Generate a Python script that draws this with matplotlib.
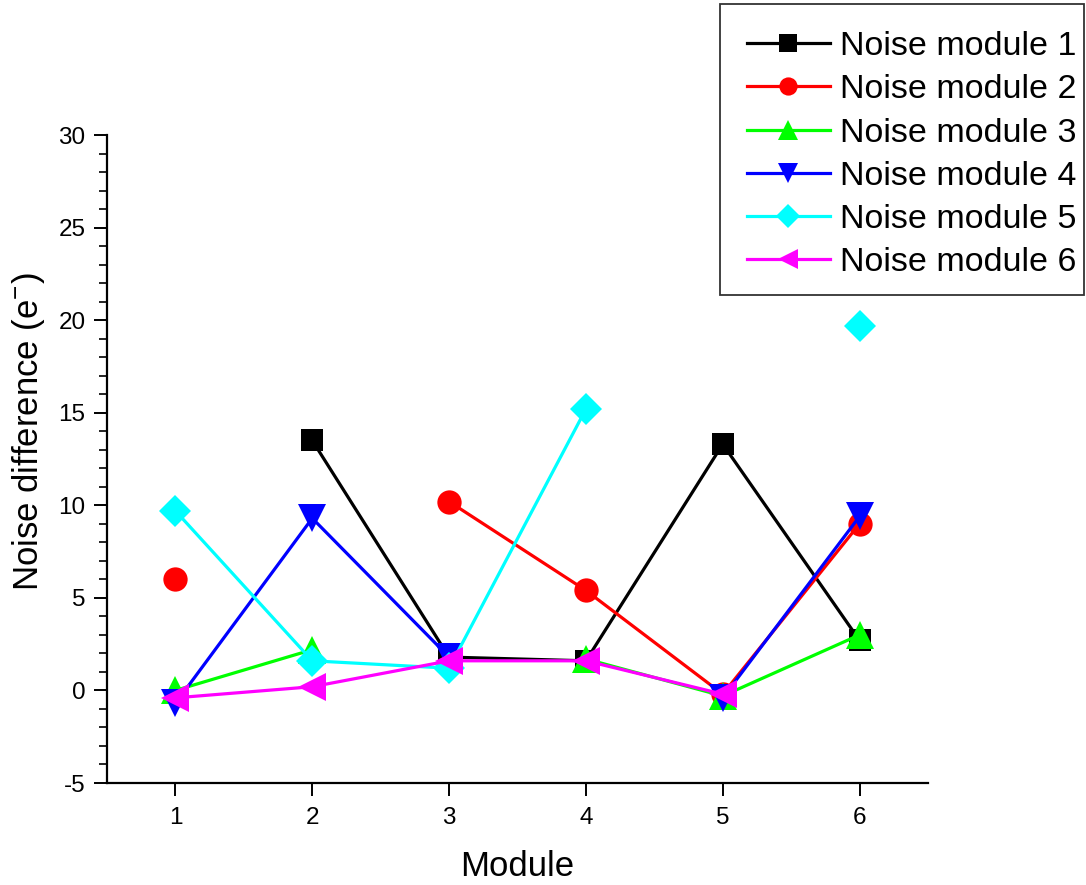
import numpy as np
import matplotlib
matplotlib.use('Agg')
import matplotlib.pyplot as plt
from matplotlib.ticker import MultipleLocator
from matplotlib.patches import Rectangle

plt.rcParams['font.family'] = ['Liberation Sans', 'DejaVu Sans']
plt.rcParams['mathtext.fontset'] = 'custom'
plt.rcParams['mathtext.rm'] = 'Liberation Sans'
plt.rcParams['mathtext.it'] = 'Liberation Sans:italic'
plt.rcParams['axes.unicode_minus'] = False

modules = [1, 2, 3, 4, 5, 6]
nan = np.nan
noise_1 = [nan, 13.5, 1.8, 1.6, 13.3, 2.7]
noise_2 = [6.0, nan, 10.2, 5.4, -0.2, 9.0]
noise_3 = [0.0, 2.2, nan, 1.7, -0.3, 3.0]
noise_4 = [-0.7, 9.3, 1.8, nan, -0.4, 9.4]
noise_5 = [9.7, 1.6, 1.2, 15.2, nan, 19.7]
noise_6 = [-0.4, 0.2, 1.6, 1.6, -0.2, nan]

labels = ['Noise module %d' % i for i in range(1, 7)]
series = [noise_1, noise_2, noise_3, noise_4, noise_5, noise_6]
colors = ['#000000', '#ff0000', '#00ff00', '#0000ff', '#00ffff', '#ff00ff']
markers = ['s', 'o', '^', 'v', 'D', '<']
sizes = [16.5, 17.5, 20, 20, 16, 20]

W, H = 1086, 885
fig = plt.figure(figsize=(W / 100, H / 100), dpi=100)
ax = fig.add_axes([107 / W, 1 - 783 / H, (928 - 107) / W, (783 - 135) / H])

for ys, c, m, s, lab in zip(series, colors, markers, sizes, labels):
    ax.plot(modules, ys, color=c, marker=m, markersize=s, linewidth=2.3,
            markeredgewidth=0, label=lab)

ax.set_xlim(0.5, 6.5)
ax.set_ylim(-5, 30)
ax.set_xticks(modules)
ax.yaxis.set_major_locator(MultipleLocator(5))
ax.yaxis.set_minor_locator(MultipleLocator(1))
ax.tick_params(axis='both', which='major', direction='out', length=9.5, width=1.4,
               labelsize=17.5, pad=6)
ax.tick_params(axis='x', which='major', pad=8)
ax.tick_params(axis='y', which='minor', direction='out', length=5.5, width=1.2)
ax.tick_params(axis='x', which='minor', bottom=False)
for side in ['top', 'right']:
    ax.spines[side].set_visible(False)
for side in ['left', 'bottom']:
    ax.spines[side].set_linewidth(1.6)

ax.set_xlabel('Module', fontsize=25, labelpad=15)
ax.set_ylabel(r'Noise difference (e$^{\mathregular{-}}$)', fontsize=25)
ax.yaxis.set_label_coords((47 - 107) / 821, (783 - 432) / 648)

handles, labs = ax.get_legend_handles_labels()
leg = fig.legend(handles, labs, loc='upper right',
                 bbox_to_anchor=(1076 / W, 1 - 31 / H),
                 fontsize=24.5, frameon=False, markerscale=0.75,
                 labelspacing=0.36, handlelength=2.44, handletextpad=0.29,
                 borderpad=0, borderaxespad=0)
fig.patches.append(Rectangle((720 / W, 1 - 295 / H), (1084 - 720) / W, (295 - 4) / H,
                             transform=fig.transFigure, fill=False,
                             edgecolor='#333333', linewidth=1.3))

fig.savefig('out.png', dpi=100)
